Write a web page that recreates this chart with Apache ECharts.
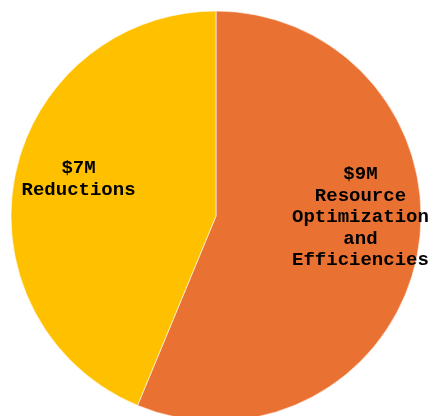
<!DOCTYPE html>
<html>
<head>
<meta charset="utf-8">
<style>
  html, body { margin: 0; padding: 0; background: #ffffff; }
  #chart { width: 431px; height: 416px; }
</style>
<script src="https://cdn.jsdelivr.net/npm/echarts@6/dist/echarts.min.js"></script>
</head>
<body>
<div id="chart"></div>
<script>
// Savings breakdown, in millions of dollars
const categories = ['Resource\nOptimization\nand\nEfficiencies', 'Reductions'];
const values = [9, 7];

const sliceColors = ['#E97132', '#FFC000'];
// Nudge each inside label outward from the default half-radius spot
const labelOffsets = [[41, -19], [-34, -16]];

const chart = echarts.init(document.getElementById('chart'), null, { renderer: 'canvas' });

chart.setOption({
  animation: false,
  backgroundColor: '#ffffff',
  series: [{
    type: 'pie',
    center: [216, 216],
    radius: 205,
    startAngle: 90,
    clockwise: true,
    avoidLabelOverlap: false,
    itemStyle: { borderColor: '#ffffff', borderWidth: 0.6 },
    label: {
      show: true,
      position: 'inside',
      color: '#000000',
      fontFamily: '"Liberation Mono", "Courier New", monospace',
      fontWeight: 'bold',
      fontSize: 19,
      lineHeight: 21.5,
      align: 'center',
      formatter: p => '$' + p.value + 'M\n' + p.name
    },
    labelLine: { show: false },
    emphasis: { disabled: true },
    data: categories.map((name, i) => ({
      name: name,
      value: values[i],
      itemStyle: { color: sliceColors[i] },
      label: { offset: labelOffsets[i] }
    }))
  }]
});
</script>
</body>
</html>
